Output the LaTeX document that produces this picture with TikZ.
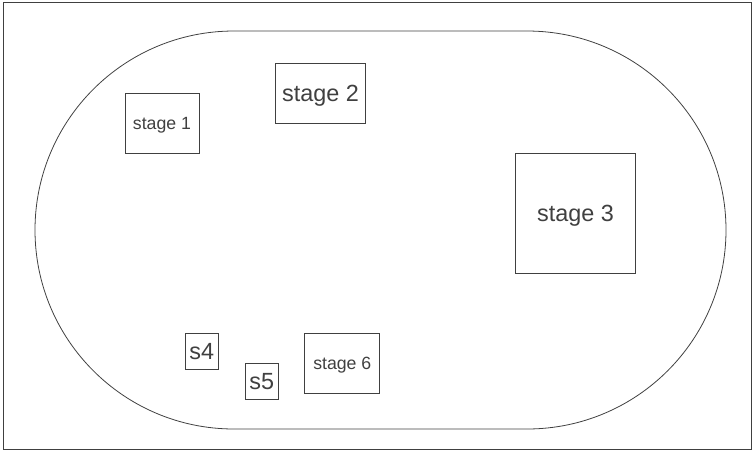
\documentclass[tikz,border=0pt]{standalone}
\usepackage{fontspec}
\setmainfont{Liberation Sans}
\definecolor{inkgray}{HTML}{404040}

\begin{document}
\begin{tikzpicture}[x=1pt, y=-1pt,
        every node/.style={font=\fontsize{17.7}{21}\selectfont, text=inkgray},
        stagebox/.style={draw=inkgray, line width=1pt, inner sep=0pt, text depth=0pt},
        bigtext/.style={font=\fontsize{23.4}{28}\selectfont}]
            \useasboundingbox (0,0) rectangle (752,451);
            \draw[inkgray, line width=1pt] (3,2) rectangle (751.5,449.5);
            \draw[inkgray, line width=0.8pt, rounded corners=199pt] (35,31) rectangle (726,429);
            \node[stagebox, minimum width=74pt, minimum height=60pt] (stage1) at (162,123) {stage 1};
            \node[stagebox, bigtext, minimum width=90pt, minimum height=60pt] (stage2) at (320.5,93) {stage 2};
            \node[stagebox, bigtext, minimum width=120pt, minimum height=120pt] (stage3) at (575.5,213) {stage 3};
            \node[stagebox, bigtext, minimum width=33.4pt, minimum height=36pt] (s4) at (201.8,351) {s4};
            \node[stagebox, bigtext, minimum width=33.4pt, minimum height=36pt] (s5) at (261.8,381) {s5};
            \node[stagebox, minimum width=74.7pt, minimum height=60pt] (stage6) at (342.3,363) {stage 6};
        \end{tikzpicture}
\end{document}
